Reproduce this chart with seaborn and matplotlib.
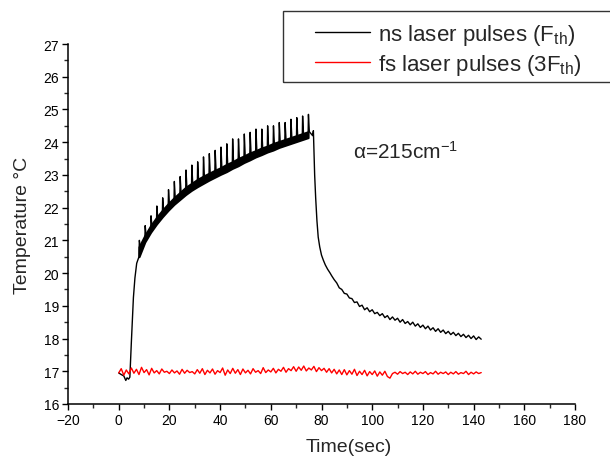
import numpy as np
import pandas as pd
import matplotlib
matplotlib.use("Agg")
import matplotlib.pyplot as plt
import matplotlib.patches as patches
from matplotlib.ticker import MultipleLocator
import seaborn as sns

# --- data ----------------------------------------------------------------
# ns pulses: baseline before the pulses and the first rise
ns_rise_t = [0.0, 1.0, 2.0, 2.8, 3.3, 3.9, 4.4, 5.0, 5.8, 6.4, 7.1]
ns_rise_T = [16.95, 16.90, 16.86, 16.72, 16.80, 16.76, 16.82, 17.90, 19.25, 19.85, 20.30]

# sawtooth during irradiation: pulse times, trough before pulse, spike top, level just after spike
ns_pulse_t = [8.0, 10.3, 12.6, 14.9, 17.2, 19.5, 21.8, 24.1, 26.4, 28.7,
              31.0, 33.3, 35.6, 37.9, 40.2, 42.5, 44.8, 47.1, 49.4, 51.7,
              54.0, 56.3, 58.6, 60.9, 63.2, 65.5, 67.8, 70.1, 72.4, 74.7]
ns_base = [20.50, 20.95, 21.25, 21.50, 21.72, 21.92, 22.10, 22.25, 22.40, 22.53,
           22.64, 22.74, 22.84, 22.93, 23.02, 23.10, 23.20, 23.28, 23.38, 23.46,
           23.55, 23.62, 23.70, 23.76, 23.84, 23.90, 23.96, 24.02, 24.08, 24.14]
ns_peak = [21.00, 21.45, 21.75, 22.05, 22.30, 22.55, 22.80, 22.95, 23.15, 23.30,
           23.40, 23.55, 23.65, 23.75, 23.85, 23.95, 24.10, 24.10, 24.25, 24.30,
           24.40, 24.40, 24.50, 24.50, 24.60, 24.60, 24.70, 24.75, 24.80, 24.85]
ns_after = [20.80, 21.15, 21.45, 21.70, 21.92, 22.12, 22.30, 22.46, 22.62, 22.74,
            22.86, 22.96, 23.05, 23.14, 23.22, 23.32, 23.40, 23.50, 23.58, 23.67,
            23.74, 23.82, 23.88, 23.96, 24.02, 24.08, 24.14, 24.20, 24.26, 24.32]

# cooling after the laser is switched off
ns_cool_t = [76.5, 76.8, 77.0, 77.3, 77.7, 78.2, 78.7, 79.3, 80.0, 80.7, 81.5, 82.4, 83.4,
             84, 85, 86, 87, 88, 89, 90, 91, 92, 93, 94, 95, 96, 97, 98, 99,
             100, 101, 102, 103, 104, 105, 106, 107, 108, 109, 110, 111, 112, 113, 114,
             115, 116, 117, 118, 119, 120, 121, 122, 123, 124, 125, 126, 127, 128, 129,
             130, 131, 132, 133, 134, 135, 136, 137, 138, 139, 140, 141, 142, 143]
ns_cool_T = [24.20, 24.35, 23.80, 23.00, 22.30, 21.60, 21.10, 20.80, 20.55, 20.40, 20.25, 20.12, 20.00,
             19.92, 19.80, 19.70, 19.55, 19.50, 19.38, 19.36, 19.24, 19.22, 19.10, 19.12, 18.98, 19.02,
             18.88, 18.94, 18.82, 18.88, 18.76, 18.80, 18.70, 18.76, 18.64, 18.70, 18.58, 18.66, 18.56,
             18.62, 18.50, 18.58, 18.46, 18.52, 18.42, 18.50, 18.38, 18.45, 18.34, 18.41, 18.30, 18.38,
             18.26, 18.33, 18.22, 18.30, 18.19, 18.26, 18.15, 18.22, 18.12, 18.19, 18.09, 18.16, 18.06,
             18.13, 18.03, 18.10, 18.00, 18.08, 17.97, 18.05, 17.98]

# fs pulses: almost flat trace, one reading per second
fs_t = list(range(0, 144))
fs_T = [16.95, 17.08, 16.88, 17.04, 16.92, 17.10, 16.94, 17.06, 16.90, 17.12,
        16.96, 17.05, 16.89, 17.09, 16.95, 17.02, 16.92, 17.07, 16.97, 17.00,
        16.93, 17.04, 16.95, 17.01, 16.91, 17.06, 16.94, 17.03, 16.96, 16.99,
        16.92, 17.05, 16.94, 17.08, 16.90, 17.03, 16.95, 17.07, 16.91, 17.02,
        16.96, 17.10, 16.88, 17.04, 16.93, 17.09, 16.94, 17.05, 16.90, 17.07,
        16.95, 17.03, 16.92, 17.08, 16.97, 17.02, 16.93, 17.11, 16.96, 17.04,
        16.98, 17.09, 16.95, 17.06, 17.00, 17.12, 16.97, 17.08, 17.02, 17.14,
        17.00, 17.13, 17.03, 17.16, 17.01, 17.10, 17.04, 17.15, 16.99, 17.11,
        17.02, 17.09, 16.97, 17.08, 16.95, 17.06, 16.92, 17.04, 16.90, 17.05,
        16.89, 17.02, 16.91, 17.06, 16.87, 17.00, 16.90, 17.03, 16.86, 16.99,
        16.90, 17.01, 16.85, 16.98, 16.88, 17.00, 16.84, 16.79, 16.93, 16.97,
        16.91, 16.99, 16.93, 16.97, 16.90, 16.98, 16.92, 17.00, 16.91, 16.97,
        16.93, 16.99, 16.90, 16.96, 16.92, 17.00, 16.91, 16.97, 16.93, 16.98,
        16.90, 16.97, 16.92, 16.99, 16.91, 16.96, 16.93, 17.00, 16.90, 16.97,
        16.92, 16.98, 16.93, 16.96]

# build the ns trace: rise, then each tooth = trough -> spike -> quick drop
t_ns, T_ns = list(ns_rise_t), list(ns_rise_T)
for tp, b, p, a in zip(ns_pulse_t, ns_base, ns_peak, ns_after):
    t_ns += [tp, tp + 0.15, tp + 0.5]
    T_ns += [b, p, a]
t_ns += ns_cool_t
T_ns += ns_cool_T

ns_df = pd.DataFrame({"time": t_ns, "temp": T_ns})
fs_df = pd.DataFrame({"time": fs_t, "temp": fs_T})

# --- plot ----------------------------------------------------------------
sns.set_style("ticks")
plt.rcParams["font.family"] = ["Liberation Sans", "DejaVu Sans"]
plt.rcParams["mathtext.fontset"] = "custom"
plt.rcParams["mathtext.rm"] = "Liberation Sans"
plt.rcParams["mathtext.it"] = "Liberation Sans:italic"

fig = plt.figure(figsize=(6.1, 4.64), dpi=100)
ax = fig.add_axes([68 / 610, 1 - 405 / 464, (575 - 68) / 610, (405 - 45) / 464])

sns.lineplot(data=ns_df, x="time", y="temp", sort=False, estimator=None,
             color="black", lw=1.9, ax=ax, label=r"ns laser pulses (F$_{\mathrm{th}}$)")
# dense noisy band under the spikes
ax.fill_between(ns_pulse_t, ns_base, ns_after, color="black", lw=1.5)
sns.lineplot(data=fs_df, x="time", y="temp", sort=False, estimator=None,
             color="red", lw=1.8, ax=ax, label=r"fs laser pulses (3F$_{\mathrm{th}}$)")

ax.set_xlim(-20, 180)
ax.set_ylim(16, 27)
ax.xaxis.set_major_locator(MultipleLocator(20))
ax.xaxis.set_minor_locator(MultipleLocator(10))
ax.yaxis.set_major_locator(MultipleLocator(1))
ax.yaxis.set_minor_locator(MultipleLocator(0.5))
for s in ["top", "right"]:
    ax.spines[s].set_visible(False)
for s in ["left", "bottom"]:
    ax.spines[s].set_linewidth(1.1)
    ax.spines[s].set_color("black")
ax.tick_params(which="major", direction="out", length=4.5, width=1.0, labelsize=10, pad=2, colors="black")
ax.tick_params(which="minor", direction="out", length=3, width=1.0)

ax.set_xlabel("Time(sec)", fontsize=14)
ax.xaxis.set_label_coords((349 - 68) / 507, -0.095)
ax.set_ylabel("Temperature °C", fontsize=14, labelpad=9)

ax.text(92.5, 23.73, "α=215cm$^{-1}$", fontsize=15, va="center", ha="left")

handles, labels = ax.get_legend_handles_labels()
ax.get_legend().remove()
for h in handles:
    h.set_linewidth(1.0)
fig.legend(handles, labels, loc="upper left", bbox_to_anchor=(304 / 610, 1 - 12 / 464),
           frameon=False, borderpad=0, fontsize=16, handlelength=2.45,
           handletextpad=0.4, labelspacing=0.2)
fig.patches.append(patches.Rectangle((283 / 610, 1 - 83 / 464), (615 - 283) / 610, 71 / 464,
                                     transform=fig.transFigure, fill=False,
                                     edgecolor="#333333", lw=1.0))

fig.savefig("out.png", dpi=100)
